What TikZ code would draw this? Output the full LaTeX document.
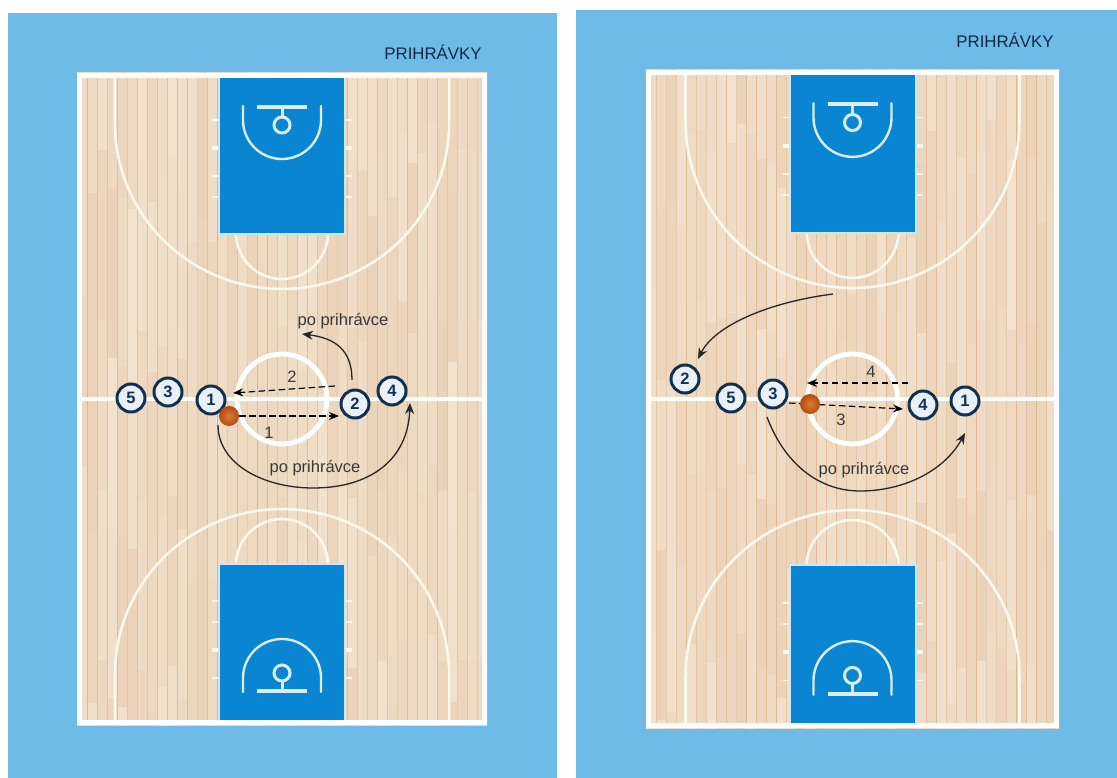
\documentclass[tikz,border=0pt]{standalone}
\usepackage{fontspec}
\setmainfont{Liberation Sans}
\usetikzlibrary{arrows.meta,shapes.geometric}
\definecolor{panelblue}{HTML}{6EBBE8}
\definecolor{keyblue}{HTML}{0A85D1}
\definecolor{wooda}{HTML}{F2E3D0}
\definecolor{woodb}{HTML}{E9D1B5}
\definecolor{navy}{HTML}{14304F}
\definecolor{playerfill}{HTML}{E9F1F8}
\definecolor{linewhite}{HTML}{FBF8EE}
\definecolor{ballin}{HTML}{E07A30}
\definecolor{ballout}{HTML}{B04A14}
\tikzset{
  x=1pt,y=-1pt,
  panel/.style={fill=panelblue,draw=none},
  courtline/.style={draw=linewhite,line width=2.6pt},
  keyline/.style={draw=white!85!keyblue,line width=2.4pt},
  player/.style={circle,draw=navy,line width=3pt,fill=playerfill,minimum size=28pt,inner sep=0pt,text=navy,font=\fontsize{16.5}{16.5}\selectfont\bfseries},
  ball/.style={circle,draw=none,minimum size=20pt,inner sep=0pt,shading=radial,inner color=ballin,outer color=ballout},
  pass/.style={draw=black,line width=1.2pt,dash pattern=on 6.5pt off 3.5pt,-{Stealth[length=10pt,width=8pt]}},
  run/.style={draw=black!85,line width=1.3pt,-{Stealth[length=11pt,width=9pt]}},
  lbl/.style={text=black!78,font=\fontsize{16.5}{17}\selectfont,inner sep=0pt},
  head/.style={text=navy!85!black,font=\fontsize{16.8}{17}\selectfont,inner sep=0pt},
}
\newcommand{\courtend}[1]{%
  \begin{scope}[yscale=#1]
    \draw[courtline] (-167,-321) -- (-167,-275)
      plot[domain=180:360,samples=70] ({167*cos(\x)},{-275-165*sin(\x)})
      -- (167,-321);
    \draw[courtline] plot[domain=180:360,samples=50] ({46*cos(\x)},{-166-46*sin(\x)});
    \foreach \ty/\tw in {-279/1.8,-251/3.6,-223/1.8,-202/1.8}{
      \draw[draw=linewhite,line width=\tw pt] (-70,\ty) -- (70,\ty);
    }
    \fill[white!80!keyblue] (-64,-321) rectangle (64,-164);
    \fill[keyblue] (-62,-321) rectangle (62,-166);
    \draw[keyline,line cap=round] (-39,-293) -- (-39,-279)
      plot[domain=180:360,samples=50] ({39*cos(\x)},{-279-39*sin(\x)})
      -- (39,-293);
    \draw[keyline,line width=4pt] (-25,-292) -- (25,-292);
    \draw[keyline,line width=3pt] (0,-292) -- (0,-283);
    \draw[keyline,line width=3pt] (0,-274) circle[radius=8pt];
  \end{scope}
}
\newcommand{\court}[4]{% cx, half width, half height outer, local y scale
  \begin{scope}[shift={(#1,399)}]
    \fill[woodb] (-#2,-#3) rectangle (#2,#3);
    \begin{scope}
      \clip (-#2,-#3) rectangle (#2,#3);
      \foreach \i in {0,...,42}{
        \pgfmathsetmacro\sx{-#2+\i*10}
        \pgfmathsetmacro\sy{-#3-random(0,120)}
        \foreach \j in {0,...,5}{
          \pgfmathsetmacro\rr{random(10,90)}
          \pgfmathsetmacro\ya{\sy+\j*170}
          \pgfmathsetmacro\yb{\ya+170}
          \fill[wooda!\rr!woodb] (\sx,\ya) rectangle (\sx+10,\yb);
        }
        \pgfmathsetmacro\rl{random(5,30)}
        \draw[draw=brown!\rl!woodb,line width=.7pt] (\sx,-#3) -- (\sx,#3);
      }
    \end{scope}
    \draw[draw=white,line width=4.6pt] (-#2,0) -- (#2,0);
    \draw[draw=white,line width=4.8pt] (0,0) circle[radius=45pt];
    \courtend{#4}
    \courtend{-#4}
    \draw[draw=white,line width=5pt] (-#2+2.5,-#3+2.5) rectangle (#2-2.5,#3-2.5);
  \end{scope}
}
\begin{document}
\begin{tikzpicture}
\useasboundingbox (0,0) rectangle (1117,778);
\fill[white] (0,0) rectangle (1117,778);
\fill[panel] (8,13) rectangle (557,778);
\fill[panel] (576,10) rectangle (1117,778);
\pgfmathsetseed{4711}
\court{282}{205}{326}{1}
\court{852.5}{206.5}{329}{1.009}

% ---------- left panel
\node[head] (titleL) at (433,52) {PRIHRÁVKY};
\node[player] (L5) at (131,398) {5};
\node[player] (L3) at (168,392) {3};
\node[player] (L1) at (211,400) {1};
\node[player] (L2) at (355,404) {2};
\node[player] (L4) at (392,391) {4};
\node[ball] (Lb) at (229,416) {};
\coordinate (L1end) at (339,416);
\coordinate (L2start) at (335,386);
\coordinate (L2end) at (233,393);
\draw[pass] (Lb.east) -- (L1end);
\draw[pass] (L2start) -- (L2end);
\coordinate (Lr1s) at (352,380);
\coordinate (Lr1e) at (302,334);
\draw[run] (Lr1s) .. controls (352,350) and (335,338) .. (Lr1e);
\coordinate (Lr2s) at (218,425);
\coordinate (Lr2m) at (313,488);
\coordinate (Lr2e) at (410,403);
\draw[run] (Lr2s) .. controls (218,465) and (265,488) .. (Lr2m) .. controls (370,488) and (408,460) .. (Lr2e);
\node[lbl] (Lt1) at (269,433) {1};
\node[lbl] (Lt2) at (292,377) {2};
\node[lbl] (Ltop) at (343,321) {po prihrávce};
\node[lbl] (Lbot) at (315,468) {po prihrávce};

% ---------- right panel
\node[head] (titleR) at (1005,40) {PRIHRÁVKY};
\node[player] (R2) at (685,379) {2};
\node[player] (R5) at (731,398) {5};
\node[player] (R3) at (773,394) {3};
\node[player] (R4) at (923,405) {4};
\node[player] (R1) at (965,401) {1};
\coordinate (R3start) at (789,403);
\coordinate (R3end) at (903,409);
\coordinate (R4start) at (908,383);
\coordinate (R4end) at (807,383);
\draw[pass] (R3start) -- (R3end);
\node[ball] (Rb) at (810,404) {};
\draw[pass] (R4start) -- (R4end);
\coordinate (Rr1s) at (833,294);
\coordinate (Rr1e) at (698,359);
\draw[run] (Rr1s) .. controls (770,302) and (715,325) .. (Rr1e);
\coordinate (Rr2s) at (767,417);
\coordinate (Rr2m) at (860,491);
\coordinate (Rr2e) at (965,433);
\draw[run] (Rr2s) .. controls (785,465) and (820,491) .. (Rr2m) .. controls (905,491) and (945,470) .. (Rr2e);
\node[lbl] (Rt3) at (841,420) {3};
\node[lbl] (Rt4) at (871,372) {4};
\node[lbl] (Rbot) at (864,470) {po prihrávce};
\end{tikzpicture}
\end{document}
